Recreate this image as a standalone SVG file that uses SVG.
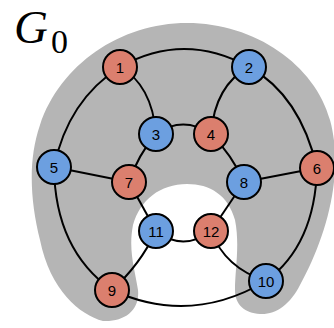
<svg xmlns="http://www.w3.org/2000/svg" width="334" height="328" viewBox="0 0 334 328">
<style>
.e{fill:none;stroke:#000;stroke-width:2}
.n circle{stroke:#000;stroke-width:2}
.r circle{fill:#DB7F6E}
.b circle{fill:#6C9FE0}
.n text{font-family:"Liberation Sans",Arial,sans-serif;font-size:15px;text-anchor:middle;fill:#000}
</style>
<rect width="334" height="328" fill="#fff"/>
<path id="region" fill="#B5B5B5" d="M 103 321 C 80 315, 50 290, 40 240 C 30 200, 28 160, 40 125 C 60 65, 120 23, 187 23 C 255 23, 315 65, 330 120 C 345 175, 325 240, 300 285 C 290 305, 275 315, 260 314 C 245 313, 235 305, 235 290 C 235 270, 240 245, 235 220 C 228 195, 210 184, 187 184 C 160 184, 140 200, 133 225 C 128 250, 135 270, 138 290 C 140 310, 125 322, 103 321 Z"/>
<text x="14" y="43" font-family="'Liberation Serif',serif" font-style="italic" font-size="47">G</text>
<text x="51" y="53" font-family="'Liberation Serif',serif" font-size="34">0</text>
<g id="edges">
<path class="e" d="M120 67 Q184 31 249 67"/>
<path class="e" d="M120 67 Q152 85 156 134"/>
<path class="e" d="M120 67 Q68 100 54 167"/>
<path class="e" d="M249 67 Q215 85 211 134"/>
<path class="e" d="M249 67 Q300 95 317 168"/>
<path class="e" d="M156 134 Q183 115 211 134"/>
<path class="e" d="M156 134 Q138 155 129 182"/>
<path class="e" d="M211 134 Q232 155 244 182"/>
<path class="e" d="M54 167 L129 182"/>
<path class="e" d="M317 168 L244 182"/>
<path class="e" d="M54 167 Q55 250 112 290"/>
<path class="e" d="M317 168 Q315 245 266 281"/>
<path class="e" d="M129 182 L156 231"/>
<path class="e" d="M244 182 L211 231"/>
<path class="e" d="M156 231 Q183 252 211 231"/>
<path class="e" d="M156 231 Q140 265 112 290"/>
<path class="e" d="M211 231 Q225 268 266 281"/>
<path class="e" d="M112 290 Q190 326 266 281"/>
</g>
<g id="n1" class="n r"><circle cx="120" cy="67" r="17"/><text x="120" y="72.5">1</text></g>
<g id="n2" class="n b"><circle cx="249" cy="67" r="17"/><text x="249" y="72.5">2</text></g>
<g id="n3" class="n b"><circle cx="156" cy="134" r="17"/><text x="156" y="139.5">3</text></g>
<g id="n4" class="n r"><circle cx="211" cy="134" r="17"/><text x="211" y="139.5">4</text></g>
<g id="n5" class="n b"><circle cx="54" cy="167" r="17"/><text x="54" y="172.5">5</text></g>
<g id="n6" class="n r"><circle cx="317" cy="168" r="17"/><text x="317" y="173.5">6</text></g>
<g id="n7" class="n r"><circle cx="129" cy="182" r="17"/><text x="129" y="187.5">7</text></g>
<g id="n8" class="n b"><circle cx="244" cy="182" r="17"/><text x="244" y="187.5">8</text></g>
<g id="n9" class="n r"><circle cx="112" cy="290" r="17"/><text x="112" y="295.5">9</text></g>
<g id="n10" class="n b"><circle cx="266" cy="281" r="17"/><text x="266" y="286.5">10</text></g>
<g id="n11" class="n b"><circle cx="156" cy="231" r="17"/><text x="156" y="236.5">11</text></g>
<g id="n12" class="n r"><circle cx="211" cy="231" r="17"/><text x="211" y="236.5">12</text></g>
</svg>
